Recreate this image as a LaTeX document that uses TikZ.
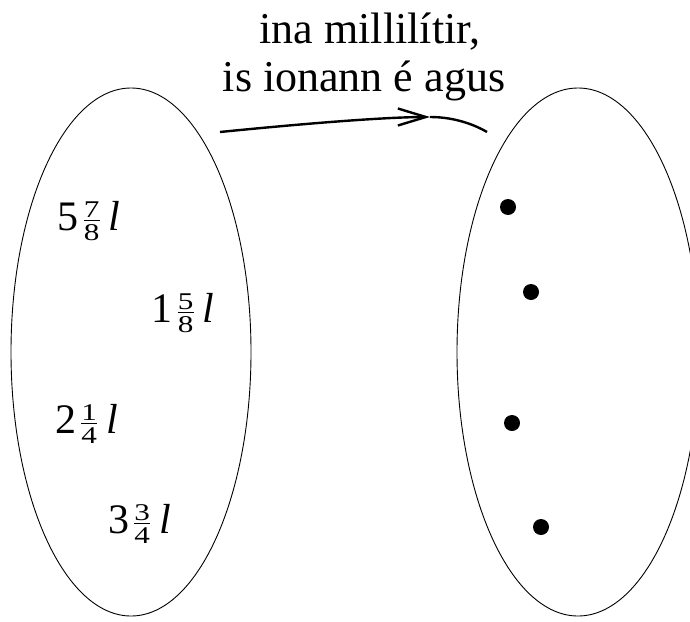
\documentclass[tikz,border=0pt]{standalone}
\usepackage{fontspec}
\usepackage{graphicx}
\setmainfont{Liberation Serif}
\usetikzlibrary{shapes.geometric,arrows.meta}
\newcommand\fdig[1]{\hbox to 16pt{\hss\scalebox{1.3}[1]{#1}\hss}}
\newcommand\myfr[2]{\raisebox{-10.5pt}{\vbox{\fontsize{24}{24}\selectfont\fdig{#1}\kern2pt\hrule height 1pt\kern4pt\fdig{#2}}}}
\newcommand\vol[3]{#1\hspace{5pt}\myfr{#2}{#3}\hspace{9pt}\textit{l}}
\tikzset{
  setshape/.style={ellipse, draw, line width=0.9pt, inner sep=0pt},
  dotmark/.style={circle, fill=black, inner sep=0pt, minimum size=16pt},
  lbl/.style={anchor=base, inner sep=0pt, font=\fontsize{42}{48}\selectfont},
  ttl/.style={anchor=base, inner sep=0pt, font=\fontsize{44}{48}\selectfont},
  conn/.style={line width=2.4pt},
}
\begin{document}
\begin{tikzpicture}[x=1pt,y=-1pt]
\useasboundingbox (0,0) rectangle (690,621);
\clip (0,0) rectangle (690,621);
\node[setshape, minimum width=240pt, minimum height=528pt] (A) at (131,352) {};
\node[setshape, minimum width=242pt, minimum height=528pt] (B) at (578,352) {};
\node[ttl] (t1) at (370,43) {ina millilítir,};
\node[ttl] (t2) at (364,91) {is ionann é agus};
\node[lbl] (q1) at (89,230) {\vol{5}{7}{8}};
\node[lbl] (q2) at (183,322) {\vol{1}{5}{8}};
\node[lbl] (q3) at (86.5,433) {\vol{2}{1}{4}};
\node[lbl] (q4) at (139.5,533) {\vol{3}{3}{4}};
\node[dotmark] (d1) at (508,207) {};
\node[dotmark] (d2) at (531,292) {};
\node[dotmark] (d3) at (512,423) {};
\node[dotmark] (d4) at (541,527) {};
\coordinate (as) at (220,132);
\coordinate (am) at (430,117);
\coordinate (ae) at (487,132);
\draw[conn, -{Straight Barb[length=28pt,width=17pt]}] (as) .. controls (330,121) and (395,117) .. (am);
\draw[conn] (am) .. controls (455,117) and (475,125) .. (ae);
\end{tikzpicture}
\end{document}
